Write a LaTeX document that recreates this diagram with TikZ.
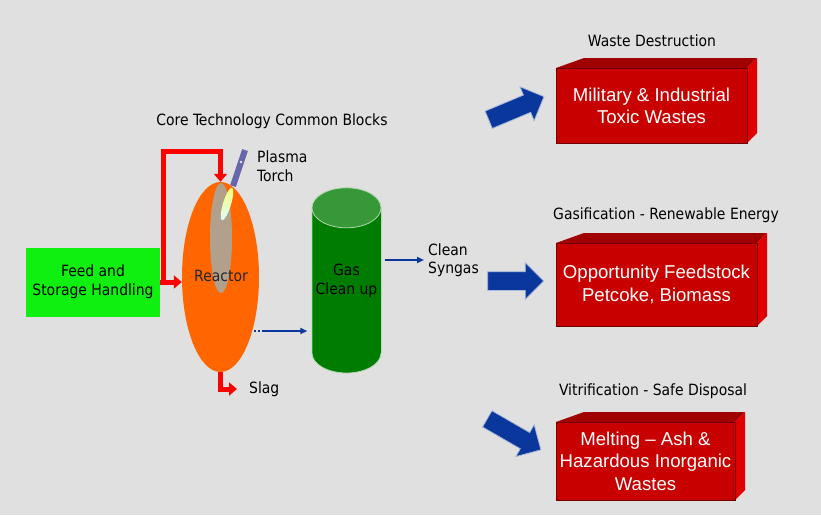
\documentclass[tikz,border=0pt]{standalone}
\usepackage{fontspec}
\setmainfont{DejaVu Sans Condensed}
\newfontfamily\boxfont{Liberation Sans}
\usetikzlibrary{positioning,shapes.geometric,shapes.arrows,arrows.meta}

\definecolor{bgGray}{RGB}{224,224,224}
\definecolor{feedGreen}{RGB}{16,240,16}
\definecolor{reactorOrange}{RGB}{255,102,0}
\definecolor{plumeTan}{RGB}{176,160,140}
\definecolor{torchBlue}{RGB}{102,102,170}
\definecolor{flowRed}{RGB}{255,0,0}
\definecolor{navy}{RGB}{10,55,155}
\definecolor{gasBody}{RGB}{0,125,0}
\definecolor{gasTop}{RGB}{55,152,55}
\definecolor{boxFront}{RGB}{200,0,0}
\definecolor{boxTop}{RGB}{160,0,0}
\definecolor{boxSide}{RGB}{225,0,0}

\tikzset{
  lbl/.style={font=\fontsize{15.5}{18.5}\selectfont, align=left, inner sep=0pt},
  redflow/.style={draw=flowRed, line width=5pt, -{Triangle[length=8pt,width=13pt]}},
  gasflow/.style={draw=navy, line width=2pt, -{Triangle[length=7pt,width=6pt]}},
  bigarrow/.style={single arrow, fill=navy, draw=navy!35!white, line width=0.8pt,
    inner xsep=0pt, inner ysep=9pt, minimum width=36pt, single arrow head extend=9pt},
  boxtext/.style={font=\boxfont\fontsize{18.6}{22.5}\selectfont, text=white, align=center}
}

% front left x, top y, right x, bottom y
\newcommand\wasteblock[4]{%
  \fill[boxTop] (#1,#2) -- ++(28,-10) -- (#3+10,#2-10) -- (#3,#2) -- cycle;
  \fill[boxSide] (#3,#2) -- (#3+10,#2-10) -- (#3+10,#4-10) -- (#3,#4) -- cycle;
  \fill[boxFront, draw=boxTop!70!black, line width=0.4pt] (#1,#2) rectangle (#3,#4);
}

\begin{document}
\begin{tikzpicture}[x=1pt, y=-1pt]
\useasboundingbox (0,0) rectangle (821,515);
\fill[bgGray] (0,0) rectangle (821,515);

% core blocks
\node[lbl] (core) at (272,121) {Core Technology Common Blocks};
\node[rectangle, fill=feedGreen, minimum width=134pt, minimum height=69pt,
  font=\fontsize{15.5}{19}\selectfont, align=center] (feed) at (93,282) {Feed and\\Storage Handling};
\node[ellipse, fill=reactorOrange, minimum width=77pt, minimum height=190pt, inner sep=0pt] (reactor) at (220.5,277) {};
\node[ellipse, fill=plumeTan, minimum width=22pt, minimum height=110pt, inner sep=0pt] (plume) at (221,238) {};
\node[ellipse, top color=yellow!55!white, bottom color=cyan!15!white, minimum width=8pt,
  minimum height=34pt, inner sep=0pt, rotate=-17] (glow) at (227,204) {};
\draw[torchBlue, line width=6pt] (245,150) -- (233,186);
\fill[white!85!torchBlue] (241,162) circle (1.3);
\node[lbl, text=black!85] (rlabel) at (221,276) {Reactor};
\node[lbl, anchor=north west] (torch) at (257,151) {Plasma\\Torch};

\draw[redflow] (feed.east) -- (feed.east -| reactor.west);
\draw[redflow] ([xshift=3pt]feed.east) |- ([yshift=30pt]reactor.north) -- (reactor.north);
\node[lbl, anchor=west] (slag) at (249,389) {Slag};
\draw[redflow] (reactor.south) |- ([xshift=-12pt]slag.west);

% gas clean up column
\fill[gasBody, draw=white!60!gasTop, line width=0.8pt] (312,208) -- (312,353)
  arc[start angle=180, end angle=360, x radius=34.5, y radius=-20] -- (381,208);
\node[rectangle, fill=gasBody, minimum width=68pt, minimum height=145pt, inner sep=0pt,
  font=\fontsize{15.5}{19}\selectfont, align=center] (gas) at (346.5,280.5) {Gas\\Clean up};
\fill[gasTop, draw=white!60!gasTop, line width=0.8pt] (gas.north) ellipse [x radius=34.5, y radius=20];
\coordinate (rxout) at (262,331);
\draw[navy, line width=2pt, dash pattern=on 2pt off 2pt] ([xshift=-8pt]rxout) -- (rxout);
\draw[gasflow, shorten >=5pt] (rxout) -- (rxout -| gas.west);
\node[lbl, anchor=west] (syngas) at (428,260) {Clean\\Syngas};
\draw[gasflow, shorten <=4pt, shorten >=4pt] (gas.east |- syngas.west) -- (syngas.west);

% application blocks
\node[lbl] (destr) at (652,41) {Waste Destruction};
\wasteblock{556}{68}{747}{143}
\node[boxtext] (toxic) at (651.5,106) {Military \& Industrial\\Toxic Wastes};
\node[bigarrow, minimum height=60pt, rotate=22.7] (arrtoxic) at (512,110) {};

\node[lbl] (gasif) at (666,215) {Gasification - Renewable Energy};
\wasteblock{556}{243}{757}{326}
\node[boxtext] (feedstock) at (656.5,284.5) {Opportunity Feedstock\\Petcoke, Biomass};
\node[bigarrow, minimum height=56pt] (arrfeed) at (511,281) {};

\node[lbl] (vitri) at (653,391) {Vitrification - Safe Disposal};
\wasteblock{556}{422}{735}{500}
\node[boxtext] (melting) at (645.5,461) {Melting – Ash \&\\Hazardous Inorganic\\Wastes};
\node[bigarrow, minimum height=62pt, rotate=-30] (arrmelt) at (510,432) {};
\end{tikzpicture}
\end{document}
